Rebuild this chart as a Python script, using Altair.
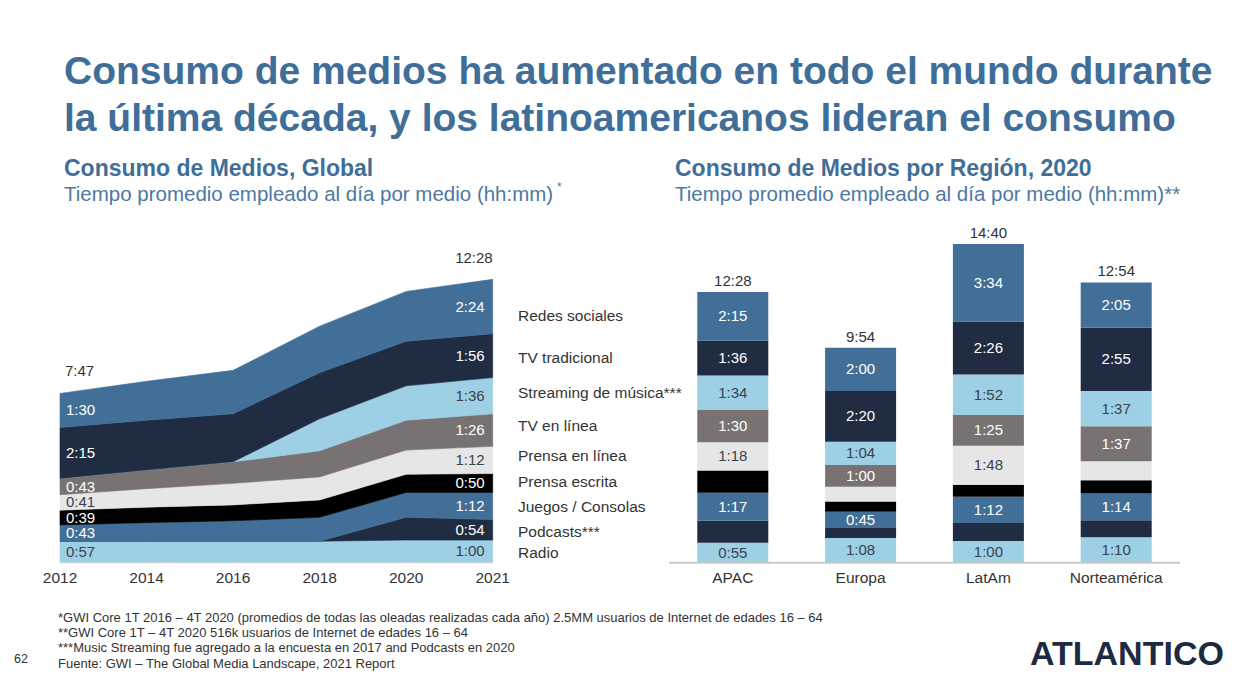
import altair as alt
import pandas as pd

FONT = "Liberation Sans, Arial, Helvetica, sans-serif"
OFF = 8  # page margin
W, H = 1222, 668

TITLE_BLUE = "#3f6e99"
SUB_BLUE = "#4d78a2"
TXT = "#333333"
DARK_LBL = "#3a424c"
WHITE = "#ffffff"

# ---------------- data ----------------
years = ["2012", "2014", "2016", "2018", "2020", "2021"]
regions = ["APAC", "Europa", "LatAm", "Norteamérica"]

# stacking order: bottom -> top
series = ["Radio", "Podcasts***", "Juegos / Consolas", "Prensa escrita",
          "Prensa en línea", "TV en línea", "Streaming de música***",
          "TV tradicional", "Redes sociales"]
series_colors = ["#9dcfe5", "#1f2c42", "#426f98", "#000000",
                 "#e6e6e6", "#787372", "#9dcfe5", "#1f2c42", "#426f98"]
label_colors = [DARK_LBL, WHITE, WHITE, WHITE, DARK_LBL, WHITE, DARK_LBL, WHITE, WHITE]

# Global, minutes per day (per year)
g_radio     = [57, 57, 57, 57, 60, 60]
g_podcasts  = [0, 0, 0, 0, 60, 54]
g_juegos    = [43, 49, 54, 63, 66, 72]
g_escrita   = [39, 41, 42, 46, 48, 50]
g_linea     = [41, 49, 57, 61, 64, 72]
g_tvlinea   = [43, 49, 57, 69, 79, 86]
g_streaming = [0, 0, 0, 85, 91, 96]
g_tvtrad    = [135, 132, 127, 122, 118, 116]
g_redes     = [90, 103, 115, 123, 132, 144]
global_values = [g_radio, g_podcasts, g_juegos, g_escrita, g_linea,
                 g_tvlinea, g_streaming, g_tvtrad, g_redes]
global_total_years = ["2012", "2021"]
global_totals = ["7:47", "12:28"]

# By region 2020, minutes per day
r_radio     = [55, 68, 60, 70]
r_podcasts  = [61, 28, 50, 47]
r_juegos    = [77, 45, 72, 74]
r_escrita   = [62, 28, 33, 37]
r_linea     = [78, 41, 108, 52]
r_tvlinea   = [90, 60, 85, 97]
r_streaming = [94, 64, 112, 97]
r_tvtrad    = [96, 140, 146, 175]
r_redes     = [135, 120, 214, 125]
region_values = [r_radio, r_podcasts, r_juegos, r_escrita, r_linea,
                 r_tvlinea, r_streaming, r_tvtrad, r_redes]
region_totals = ["12:28", "9:54", "14:40", "12:54"]
region_unlabeled = [("APAC", "Podcasts***"), ("APAC", "Prensa escrita"),
                    ("Europa", "Podcasts***"), ("Europa", "Prensa escrita"),
                    ("Europa", "Prensa en línea"),
                    ("LatAm", "Podcasts***"), ("LatAm", "Prensa escrita"),
                    ("Norteamérica", "Podcasts***"), ("Norteamérica", "Prensa escrita"),
                    ("Norteamérica", "Prensa en línea")]


def hhmm(m):
    m = int(round(m))
    return f"{m // 60}:{m % 60:02d}"


# ---------------- tables ----------------
rows = []
for j, yr in enumerate(years):
    cum = 0
    for i, s in enumerate(series):
        v = global_values[i][j]
        rows.append(dict(year=yr, series=s, order=i, v=v, y0=cum, y1=cum + v,
                         mid=cum + v / 2, label=hhmm(v), tc=label_colors[i]))
        cum += v
df_g = pd.DataFrame(rows)
df_g_tot = df_g.groupby("year", as_index=False)["v"].sum().rename(columns={"v": "total"})
df_g_tot = df_g_tot[df_g_tot["year"].isin(global_total_years)].copy()
df_g_tot["text"] = [global_totals[global_total_years.index(y)] for y in df_g_tot["year"]]

rows = []
for j, rg in enumerate(regions):
    cum = 0
    for i, s in enumerate(series):
        v = region_values[i][j]
        rows.append(dict(region=rg, series=s, order=i, v=v, y0=cum, y1=cum + v,
                         mid=cum + v / 2,
                         label="" if (rg, s) in region_unlabeled else hhmm(v),
                         tc=label_colors[i]))
        cum += v
df_r = pd.DataFrame(rows)
df_r_tot = pd.DataFrame(dict(region=regions,
                             total=[sum(region_values[i][j] for i in range(len(series))) for j in range(len(regions))],
                             text=region_totals))

# ---------------- scales ----------------
cscale = alt.Scale(domain=series, range=series_colors)
xg_scale = alt.Scale(type="point", domain=years, range=[60 - OFF, 492.7 - OFF], padding=0)
yg_scale = alt.Scale(domain=[0, 750], range=[562.7 - OFF, 279.3 - OFF], nice=False, zero=True)
xr_scale = alt.Scale(type="band", domain=regions, range=[668.9 - OFF, 1180.1 - OFF],
                     paddingInner=0.4444, paddingOuter=0.2222)
yr_scale = alt.Scale(domain=[0, 880], range=[562.7 - OFF, 244.1 - OFF], nice=False, zero=True)

XG = alt.X("year:O", scale=xg_scale, axis=None)
XR = alt.X("region:N", scale=xr_scale, axis=None)

# ---------------- global (left) ----------------
area = alt.Chart(df_g).mark_area(interpolate="linear", strokeWidth=0.6).encode(
    x=XG,
    y=alt.Y("y1:Q", scale=yg_scale, axis=None),
    y2="y0:Q",
    color=alt.Color("series:N", scale=cscale, legend=None),
    stroke=alt.Stroke("series:N", scale=cscale, legend=None),
    order=alt.Order("order:Q"),
)

base_line_g = alt.Chart(pd.DataFrame({"year": [years[0]], "year2": [years[-1]], "z": [0]})).mark_rule(
    color="#cfd8e0", strokeWidth=1).encode(
    x=XG, x2="year2:O", y=alt.Y("z:Q", scale=yg_scale, axis=None))

lbl_first = alt.Chart(df_g[(df_g["year"] == years[0]) & (df_g["v"] > 0)]).mark_text(
    align="left", baseline="middle", dx=6, fontSize=15, font=FONT).encode(
    x=XG, y=alt.Y("mid:Q", scale=yg_scale, axis=None), text="label:N",
    color=alt.Color("tc:N", scale=None))

lbl_last = alt.Chart(df_g[(df_g["year"] == years[-1]) & (df_g["v"] > 0)]).mark_text(
    align="right", baseline="middle", dx=-8, fontSize=15, font=FONT).encode(
    x=XG, y=alt.Y("mid:Q", scale=yg_scale, axis=None), text="label:N",
    color=alt.Color("tc:N", scale=None))

tot_first = alt.Chart(df_g_tot[df_g_tot["year"] == years[0]]).mark_text(
    align="left", baseline="middle", dx=5, dy=-22, fontSize=15, font=FONT, color=TXT).encode(
    x=XG, y=alt.Y("total:Q", scale=yg_scale, axis=None), text="text:N")
tot_last = alt.Chart(df_g_tot[df_g_tot["year"] == years[-1]]).mark_text(
    align="right", baseline="middle", dx=0, dy=-21, fontSize=15, font=FONT, color=TXT).encode(
    x=XG, y=alt.Y("total:Q", scale=yg_scale, axis=None), text="text:N")

year_lbls = alt.Chart(pd.DataFrame({"year": years})).mark_text(
    baseline="middle", fontSize=15.5, font=FONT, color=TXT).encode(
    x=XG, y=alt.value(578 - OFF), text="year:N")

left = alt.layer(area, base_line_g, lbl_first, lbl_last, tot_first, tot_last, year_lbls)

# ---------------- regions (right) ----------------
bars = alt.Chart(df_r).mark_bar().encode(
    x=XR,
    y=alt.Y("y1:Q", scale=yr_scale, axis=None),
    y2="y0:Q",
    color=alt.Color("series:N", scale=cscale, legend=None),
)
bar_lbls = alt.Chart(df_r[df_r["label"] != ""]).mark_text(
    baseline="middle", fontSize=15, font=FONT).encode(
    x=XR, y=alt.Y("mid:Q", scale=yr_scale, axis=None), text="label:N",
    color=alt.Color("tc:N", scale=None))
bar_tots = alt.Chart(df_r_tot).mark_text(
    baseline="middle", dy=-11, fontSize=15, font=FONT, color=TXT).encode(
    x=XR, y=alt.Y("total:Q", scale=yr_scale, axis=None), text="text:N")
series_names = alt.Chart(df_r[df_r["region"] == regions[0]]).mark_text(
    align="left", baseline="middle", fontSize=15.5, font=FONT, color=TXT).encode(
    x=alt.value(518 - OFF), y=alt.Y("mid:Q", scale=yr_scale, axis=None), text="series:N")
region_lbls = alt.Chart(pd.DataFrame({"region": regions})).mark_text(
    baseline="middle", fontSize=15.5, font=FONT, color=TXT).encode(
    x=XR, y=alt.value(578 - OFF), text="region:N")
base_line_r = alt.Chart(pd.DataFrame({"z": [0]})).mark_rule(color="#c9c9c9", strokeWidth=2).encode(
    x=alt.value(669 - OFF), x2=alt.value(1180 - OFF), y=alt.Y("z:Q", scale=yr_scale, axis=None))

right = alt.layer(bars, base_line_r, bar_lbls, bar_tots, series_names, region_lbls)


# ---------------- static texts ----------------
def txt(text, x, y, size, color, weight="normal", align="left"):
    return alt.Chart(pd.DataFrame({"t": [text]})).mark_text(
        align=align, baseline="middle", fontSize=size, fontWeight=weight,
        color=color, font=FONT).encode(
        x=alt.value(x - OFF), y=alt.value(y - OFF), text="t:N")


texts = [
    txt("Consumo de medios ha aumentado en todo el mundo durante", 64, 72, 39, TITLE_BLUE, "bold"),
    txt("la última década, y los latinoamericanos lideran el consumo", 64, 119, 39, TITLE_BLUE, "bold"),
    txt("Consumo de Medios, Global", 64, 169, 23, TITLE_BLUE, "bold"),
    txt("Tiempo promedio empleado al día por medio (hh:mm)", 64, 195, 20.5, SUB_BLUE),
    txt("*", 557, 187, 12, SUB_BLUE),
    txt("Consumo de Medios por Región, 2020", 675, 169, 23, TITLE_BLUE, "bold"),
    txt("Tiempo promedio empleado al día por medio (hh:mm)**", 675, 195, 20.5, SUB_BLUE),
    txt("*GWI Core 1T 2016 – 4T 2020 (promedios de todas las oleadas realizadas cada año) 2.5MM usuarios de Internet de edades 16 – 64", 58, 618, 13, TXT),
    txt("**GWI Core 1T – 4T 2020 516k usuarios de Internet de edades 16 – 64", 58, 633, 13, TXT),
    txt("***Music Streaming fue agregado a la encuesta en 2017 and Podcasts en 2020", 58, 648, 13, TXT),
    txt("Fuente: GWI – The Global Media Landscape, 2021 Report", 58, 664, 13, TXT),
    txt("62", 14, 659, 12.5, TXT),
    txt("ATLANTICO", 1030, 655, 34, "#1c2a42", "bold"),
]

chart = alt.layer(left, right, *texts).resolve_scale(
    x="independent", y="independent"
).properties(
    width=W, height=H, autosize=alt.AutoSizeParams(type="none"), padding=0,
    background="white"
).configure_view(stroke=None)

chart.save("out.html", embed_options={"renderer": "svg", "actions": False})
